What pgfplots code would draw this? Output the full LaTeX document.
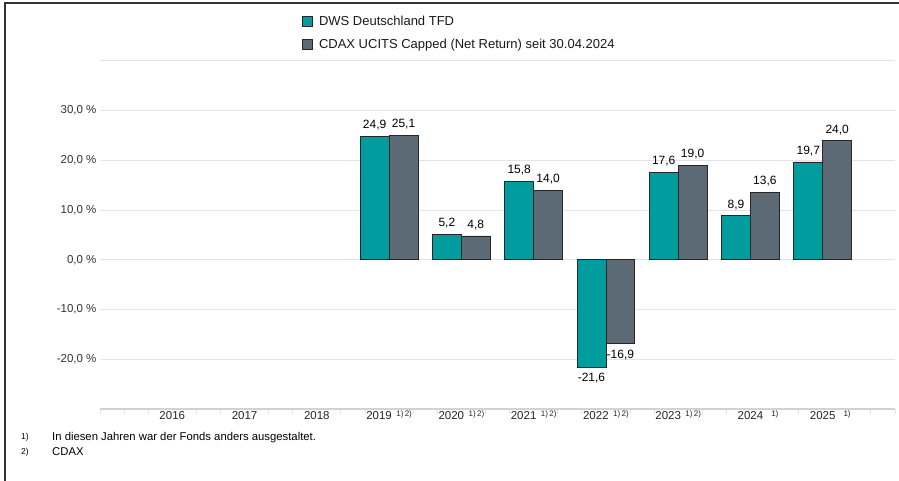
\documentclass[border=0pt]{standalone}
\usepackage{pgfplots}
\pgfplotsset{compat=1.18}
\usepackage{fontspec}
\setmainfont{Liberation Sans}
\definecolor{teal1}{HTML}{009C9E}
\definecolor{slate}{HTML}{5B6A75}
\definecolor{gridc}{HTML}{E4E4E4}
\newcommand\sups[1]{\hspace{4.5pt}{\fontsize{8}{9}\selectfont\raisebox{2.6pt}{#1}}}
\newcommand\supr[1]{\rlap{\hspace{8pt}{\fontsize{8}{9}\selectfont\raisebox{2.6pt}{#1}}}}
\pgfplotstableread{
x dws cdax
3 24.9 25.1
4 5.2 4.8
5 15.8 14.0
6 -21.6 -16.9
7 17.6 19.0
8 8.9 13.6
9 19.7 24.0
}\datatable
\begin{document}
\begin{tikzpicture}
\useasboundingbox (0pt,0pt) rectangle (899pt,481pt);
\draw[color=black!80, line width=1.5pt] (5pt,0pt) -- (5pt,478pt) -- (899pt,478pt);
\begin{axis}[
 at={(100pt,72pt)}, anchor=south west, scale only axis,
 width=795pt, height=348pt,
 xmin=-1, xmax=10, ymin=-30, ymax=40,
 ybar=0pt, bar width=0.4,
 axis line style={draw=none},
 tick pos=left,
 tick align=outside,
 major tick length=0pt,
 minor tick length=5pt,
 tick style={gridc, line width=1pt},
 xtick={0,...,9},
 xticklabels={2016,2017,2018,2019\sups{1)\,2)},2020\sups{1)\,2)},2021\sups{1)\,2)},2022\sups{1)\,2)},2023\sups{1)\,2)},2024\supr{1)},2025\supr{1)}},
 minor xtick={-1,-0.6667,-0.3333,0.3333,0.6667,1.3333,1.6667,2.3333,2.6667,3.3333,3.6667,4.3333,4.6667,5.3333,5.6667,6.3333,6.6667,7.3333,7.6667,8.3333,8.6667,9.3333,9.6667,10},
 xticklabel style={font=\fontsize{11.5}{13}\selectfont, text=black!85, inner sep=0pt, anchor=north, yshift=-2pt},
 ytick={-20,-10,...,40},
 yticklabels={{-20,0 \%},{-10,0 \%},{0,0 \%},{10,0 \%},{20,0 \%},{30,0 \%},{}},
 yticklabel style={font=\fontsize{11.5}{13}\selectfont, text=black!80},
 extra y ticks={-30},
 extra y tick labels={},
 extra y tick style={grid style={gridc!92!black, line width=2pt}},
 ymajorgrids,
 grid style={gridc, line width=1pt},
 nodes near coords={\pgfmathprintnumber[fixed,fixed zerofill,precision=1,use comma,assume math mode=true]{\pgfplotspointmeta}},
 nodes near coords style={font=\fontsize{12}{14}\selectfont, inner sep=5.5pt, text=black},
 legend style={at={(0.254,1.135)}, anchor=north west, draw=none, fill=none,
   font=\fontsize{13}{15}\selectfont, row sep=8pt, column sep=4pt, cells={anchor=west}, inner sep=0pt, text=black!90},
 legend image code/.code={\draw[#1,draw=black!85,line width=0.9pt] (0pt,-5pt) rectangle (10pt,5pt);},
]
\addplot[fill=teal1, draw=black!85, line width=0.8pt] table[x=x,y=dws] {\datatable};
\addlegendentry{DWS Deutschland TFD}
\addplot[fill=slate, draw=black!85, line width=0.8pt] table[x=x,y=cdax] {\datatable};
\addlegendentry{CDAX UCITS Capped (Net Return) seit 30.04.2024}
\end{axis}
\node[anchor=base west, inner sep=0pt, font=\fontsize{8.5}{9}\selectfont] at (21pt,41.5pt) {1)};
\node[anchor=base west, inner sep=0pt, font=\fontsize{11.3}{13}\selectfont] at (52pt,40pt) {In diesen Jahren war der Fonds anders ausgestaltet.};
\node[anchor=base west, inner sep=0pt, font=\fontsize{8.5}{9}\selectfont] at (21pt,26.5pt) {2)};
\node[anchor=base west, inner sep=0pt, font=\fontsize{11.3}{13}\selectfont] at (52pt,25pt) {CDAX};
\end{tikzpicture}
\end{document}
